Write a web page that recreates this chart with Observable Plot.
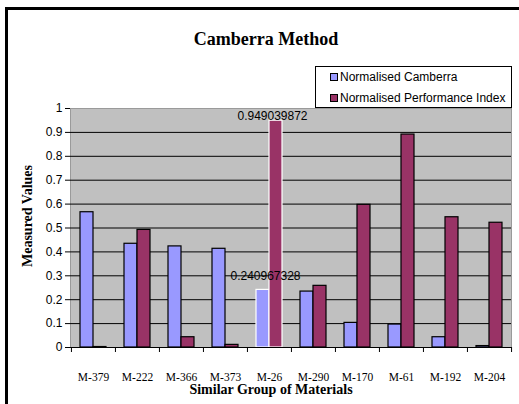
<!DOCTYPE html>
<html>
<head>
<meta charset="utf-8">
<script src="https://cdn.jsdelivr.net/npm/d3@7"></script>
<script src="https://cdn.jsdelivr.net/npm/@observablehq/plot@0.6"></script>
<style>
  html, body { margin: 0; padding: 0; background: #fff; overflow: hidden; }
  #chart { position: relative; width: 519px; height: 404px; overflow: hidden; }
  #chart svg { position: absolute; left: 0; top: 0; }
  .border { position: absolute; left: 5px; top: 7px; width: 700px; height: 600px; border: 3px solid #000; box-sizing: border-box; }
  .serif { position: absolute; font-family: "Liberation Serif", "Times New Roman", serif; font-weight: bold; color: #000; white-space: nowrap; transform: translate(-50%, -50%); }
  .legend { position: absolute; left: 315px; top: 66px; width: 197px; height: 42px; box-sizing: border-box; border: 1px solid #000; background: #fff; font-family: "Liberation Sans", Arial, sans-serif; font-size: 12px; }
  .legend .item { position: absolute; left: 14px; display: flex; align-items: center; white-space: nowrap; }
  .legend .sw { width: 6px; height: 6px; border: 1px solid #000; margin-right: 2px; }
</style>
</head>
<body>
<div id="chart">
  <div class="border"></div>
</div>
<script>
// Materials in the similar group and the two normalised measures for each
const materials = ["M-379", "M-222", "M-366", "M-373", "M-26", "M-290", "M-170", "M-61", "M-192", "M-204"];
const camberra = [0.566, 0.434, 0.423, 0.413, 0.240967328, 0.234, 0.103, 0.096, 0.043, 0.006];
const performance = [0.002, 0.492, 0.043, 0.011, 0.949039872, 0.258, 0.597, 0.891, 0.545, 0.522];
const yTicks = [0, 0.1, 0.2, 0.3, 0.4, 0.5, 0.6, 0.7, 0.8, 0.9, 1];
const highlighted = "M-26";

const seriesNames = ["Normalised Camberra", "Normalised Performance Index"];
const seriesColors = ["#9999ff", "#993366"];

const rows = materials.map((m, i) => ({material: m, camberra: camberra[i], performance: performance[i]}));
const labelled = rows.filter(d => d.material === highlighted);

const W = 519, H = 404;
const mL = 70, mR = 8, mT = 108, mB = 57;
const step = (W - mL - mR) / materials.length;

const edge = d => d.material === highlighted ? "#ffffff" : "#000000";
const sans = "Liberation Sans, Arial, sans-serif";
const serif = "Liberation Serif, Times New Roman, serif";

const plot = Plot.plot({
  width: W,
  height: H,
  marginLeft: mL,
  marginRight: mR,
  marginTop: mT,
  marginBottom: mB,
  style: {background: "transparent", overflow: "visible"},
  x: {type: "band", domain: materials, padding: 0},
  y: {type: "linear", domain: [0, 1]},
  marks: [
    Plot.frame({fill: "#c0c0c0", stroke: "#9a9a9a"}),
    Plot.ruleY(yTicks.slice(1, -1), {stroke: "#000", strokeWidth: 1}),
    Plot.barY(rows, {x: "material", y: "camberra", fill: seriesColors[0], stroke: edge, strokeWidth: 1.2, insetLeft: 9, insetRight: 22}),
    Plot.barY(rows, {x: "material", y: "performance", fill: seriesColors[1], stroke: edge, strokeWidth: 1.2, insetLeft: 22, insetRight: 9}),
    Plot.ruleY([0], {stroke: "#000", strokeWidth: 1}),
    // tick marks at the category boundaries, below the axis line
    Plot.axisX({ticks: materials, tickSize: 5, tickFormat: () => "", dx: -step / 2, stroke: "#000", label: null}),
    Plot.axisX({ticks: materials.slice(-1), tickSize: 5, tickFormat: () => "", dx: step / 2, stroke: "#000", label: null}),
    Plot.axisX({tickSize: 0, tickPadding: 25, fontSize: 11.5, fontFamily: serif, fill: "#000", label: null}),
    Plot.axisY({ticks: yTicks, tickFormat: d => String(+d.toFixed(1)), tickSize: 5, tickPadding: 3, fontSize: 12, fontFamily: sans, fill: "#000", stroke: "#000", label: null}),
    Plot.text(labelled, {x: "material", y: "performance", text: d => String(d.performance), dx: 3, dy: -5, fontSize: 12, fontFamily: sans, fill: "#000"}),
    Plot.text(labelled, {x: "material", y: "camberra", text: d => String(d.camberra), dx: -4, dy: -14, fontSize: 12, fontFamily: sans, fill: "#000"})
  ]
});

const chart = document.getElementById("chart");
chart.appendChild(plot);

function addText(txt, x, y, size, rotate) {
  const el = document.createElement("div");
  el.className = "serif";
  el.textContent = txt;
  el.style.left = x + "px";
  el.style.top = y + "px";
  el.style.fontSize = size + "px";
  if (rotate) el.style.transform = "translate(-50%, -50%) rotate(-90deg)";
  chart.appendChild(el);
}
addText("Camberra Method", 266, 39, 18);
addText("Measured Values", 28, 216, 14, true);
addText("Similar Group of Materials", 271, 390, 14);

const legend = document.createElement("div");
legend.className = "legend";
seriesNames.forEach((name, i) => {
  const item = document.createElement("div");
  item.className = "item";
  item.style.top = (i === 0 ? 3 : 24) + "px";
  const sw = document.createElement("div");
  sw.className = "sw";
  sw.style.background = seriesColors[i];
  const t = document.createElement("span");
  t.textContent = name;
  item.appendChild(sw);
  item.appendChild(t);
  legend.appendChild(item);
});
chart.appendChild(legend);
</script>
</body>
</html>
